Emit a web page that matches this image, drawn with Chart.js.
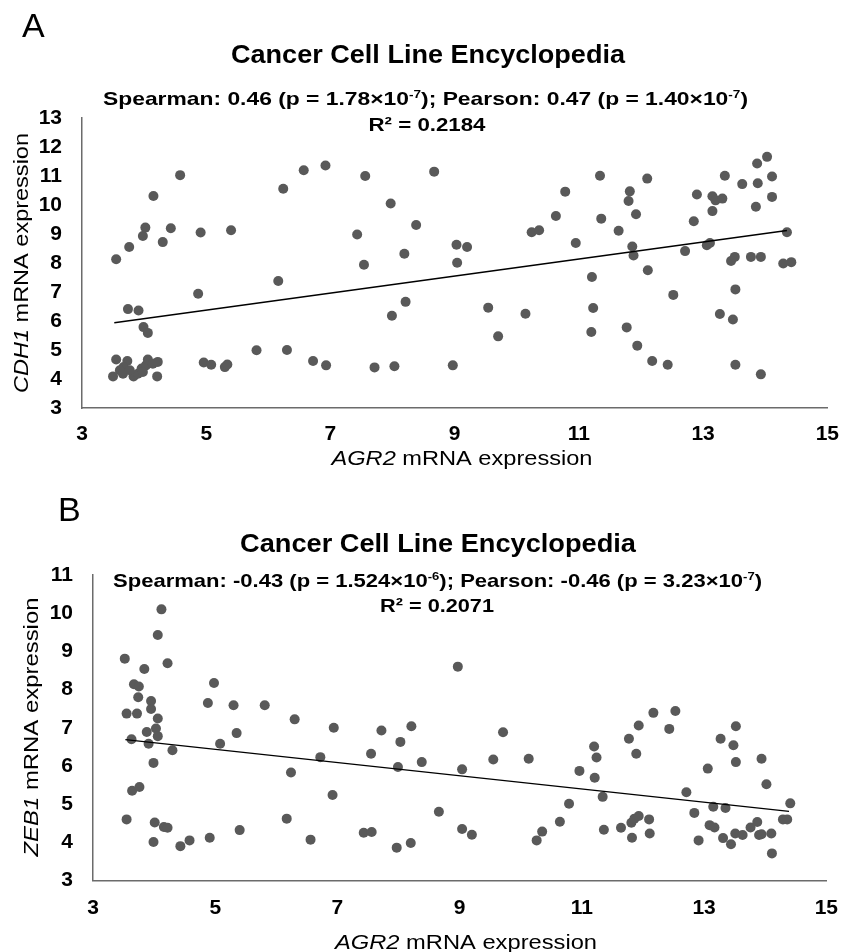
<!DOCTYPE html>
<html>
<head>
<meta charset="utf-8">
<title>AGR2 vs CDH1 / ZEB1 - Cancer Cell Line Encyclopedia</title>
<script src="https://cdn.jsdelivr.net/npm/chart.js@4.4.1/dist/chart.umd.min.js"></script>
<style>
  html, body { margin: 0; padding: 0; background: #fff; }
  #wrap { position: relative; width: 853px; height: 952px; overflow: hidden; }
  canvas { position: absolute; left: 0; }
  #chartA { top: 0; }
  #chartB { top: 480px; }
</style>
</head>
<body>
<div id="wrap">
  <canvas id="chartA" width="853" height="480"></canvas>
  <canvas id="chartB" width="853" height="472"></canvas>
</div>
<script>
(() => {
  "use strict";

  // Panel A: AGR2 (x) vs CDH1 (y)
  const agr2A = [
    3.55, 3.76, 3.98, 4.02, 4.15, 4.30, 4.43, 4.58, 4.91, 5.40, 4.87, 3.74, 3.91, 3.99, 4.06,
    6.16, 6.24, 6.57, 6.92, 7.56, 7.97, 8.38, 8.67, 7.43, 7.54, 8.19, 8.21, 7.99,
    3.55, 3.73, 3.67, 3.61, 3.50, 3.66, 3.83, 3.90, 3.96, 4.03, 4.06, 4.14, 4.22, 4.21, 3.98, 3.77,
    4.96, 5.08, 5.30, 5.34, 5.81, 6.30, 6.72, 6.93, 7.71, 8.03, 8.97,
    9.03, 9.20, 9.04, 9.54, 9.70, 10.14, 10.24, 10.36, 10.63, 10.78, 10.95, 11.21, 11.23, 11.20,
    11.34, 11.36, 11.64, 11.77, 11.82, 11.80, 11.86, 11.88, 11.92, 11.94, 12.10, 12.11, 12.18,
    12.43, 12.52, 12.71, 12.85, 12.90, 13.06, 13.11, 13.15, 13.20, 13.31, 13.15, 13.27, 13.35,
    13.45, 13.51, 13.52, 13.48, 13.52, 13.63, 13.77, 13.93, 13.93, 13.85, 13.88, 13.87, 14.03,
    14.11, 14.11, 14.35, 14.29, 14.42,
  ];
  const cdh1A = [
    8.13, 8.55, 8.93, 9.22, 10.31, 8.72, 9.20, 11.03, 9.05, 9.13, 6.94, 6.41, 6.36, 5.79, 5.59,
    7.38, 10.56, 11.20, 11.36, 11.00, 10.05, 9.31, 11.15, 8.98, 7.94, 8.32, 6.66, 6.18,
    4.67, 4.62, 4.41, 4.30, 4.09, 4.18, 4.09, 4.18, 4.36, 4.47, 4.67, 4.53, 4.59, 4.09, 4.24, 4.30,
    4.57, 4.49, 4.41, 4.50, 4.99, 5.00, 4.62, 4.47, 4.40, 4.44, 4.47,
    8.63, 8.55, 8.01, 6.46, 5.47, 6.25, 9.06, 9.13, 9.62, 10.46, 8.69, 7.52, 6.45, 5.62,
    11.01, 9.53, 9.11, 5.78, 10.47, 10.14, 8.57, 8.26, 9.68, 5.15, 10.91, 7.75, 4.62,
    4.49, 6.90, 8.41, 9.44, 10.36, 8.61, 8.69, 10.30, 10.16, 10.22, 9.79, 6.24, 11.01,
    8.07, 8.21, 7.09, 6.05, 4.49, 10.72, 8.21, 8.21, 4.16, 9.94, 10.75, 11.43, 11.66,
    10.98, 10.28, 9.06, 7.98, 8.03,
  ];
  const trendAgr2A = [3.52, 14.35];
  const trendCdh1A = [5.94, 9.12];

  // Panel B: AGR2 (x) vs ZEB1 (y)
  const agr2B = [
    3.52, 3.55, 3.63, 3.64, 3.76, 3.55, 3.67, 3.75, 3.74, 3.72, 3.84, 3.95, 3.95, 3.88, 3.91,
    3.99, 4.03, 4.06, 4.06, 4.06, 4.12, 4.22, 4.30, 4.01, 3.99, 4.16, 4.22, 4.43, 4.58,
    4.88, 4.98, 4.91, 5.08, 5.30, 5.35, 5.40, 5.81, 6.30, 6.24, 6.17, 6.56, 6.72, 6.94, 6.92,
    7.43, 7.56, 7.55, 7.72, 8.03, 7.99, 8.21, 7.97, 8.20, 8.38, 8.66,
    8.97, 9.04, 9.04, 9.20, 9.55, 9.71, 10.13, 10.26, 10.35, 10.64, 10.79, 10.96, 11.20, 11.24,
    11.21, 11.34, 11.36, 11.64, 11.77, 11.89, 11.93, 11.81, 11.86, 11.93, 11.82, 12.10, 12.11,
    12.17, 12.43, 12.53, 12.71, 12.84, 12.91, 13.06, 13.15, 13.35, 13.09, 13.17, 13.27, 13.31,
    13.44, 13.51, 13.63, 13.52, 13.48, 13.52, 13.76, 13.87, 13.90, 13.94, 13.94, 14.02, 14.10,
    14.11, 14.29, 14.36, 14.41,
  ];
  const zeb1B = [
    8.81, 7.37, 6.70, 5.35, 5.45, 4.60, 8.14, 8.08, 7.80, 7.37, 8.54, 7.70, 7.49, 6.89, 6.58,
    6.08, 6.98, 7.24, 6.78, 9.43, 10.10, 8.69, 6.41, 4.52, 4.01, 4.40, 4.38, 3.90, 4.05,
    7.65, 8.17, 4.12, 6.58, 7.59, 6.86, 4.32, 7.59, 7.22, 5.83, 4.62, 4.07, 6.23, 7.00, 5.24,
    4.25, 4.27, 6.32, 6.93, 6.63, 5.97, 7.04, 3.86, 3.98, 6.10, 4.80,
    8.60, 5.91, 4.35, 4.20, 6.17, 6.88, 6.19, 4.05, 4.28, 4.54, 5.01, 5.87, 6.51, 6.22,
    5.69, 5.19, 4.33, 4.38, 6.71, 6.32, 7.06, 4.51, 4.62, 4.69, 4.12, 4.60, 4.23,
    7.39, 6.97, 7.44, 5.31, 4.77, 4.05, 5.93, 4.93, 4.90, 4.45, 4.39, 6.71, 4.11,
    3.95, 4.23, 4.19, 7.04, 6.54, 6.10, 4.39, 4.53, 4.19, 4.21, 6.19, 5.52, 4.23,
    3.71, 4.60, 4.60, 5.02,
  ];
  const trendAgr2B = [3.53, 14.39];
  const trendZeb1B = [6.69, 4.81];

  const xTicks = [3, 5, 7, 9, 11, 13, 15];
  const yTicksA = [3, 4, 5, 6, 7, 8, 9, 10, 11, 12, 13];
  const yTicksB = [3, 4, 5, 6, 7, 8, 9, 10, 11];

  const FAMILY = '"Liberation Sans", Arial, Helvetica, sans-serif';
  const AXIS = "#6b6b6b";
  const DOT = "#595959";

  const f = (spec) => spec + " " + FAMILY;
  const BOLD = f("bold 18.5px");
  const SUP = f("bold 11px");
  const ITAL = f("italic 21px");
  const REG = f("21px");

  const toPoints = (xs, ys) => xs.map((x, i) => ({ x, y: ys[i] }));

  // draw a row of text runs, optionally stretched to a given width
  function drawRuns(ctx, item) {
    let natural = 0;
    item.runs.forEach((r) => {
      ctx.font = r[1];
      natural += ctx.measureText(r[0]).width;
    });
    const sx = item.width ? item.width / natural : 1;
    ctx.save();
    ctx.fillStyle = "#000";
    ctx.textBaseline = "alphabetic";
    ctx.textAlign = "left";
    ctx.translate(item.x, item.y);
    if (item.rotate) ctx.rotate(-Math.PI / 2);
    ctx.scale(sx, 1);
    let x = item.align === "left" ? 0 : -natural / 2;
    item.runs.forEach((r) => {
      ctx.font = r[1];
      ctx.fillText(r[0], x, -(r[2] || 0));
      x += ctx.measureText(r[0]).width;
    });
    ctx.restore();
  }

  const textPlugin = (items) => ({
    id: "panelText",
    afterDraw(chart) {
      items.forEach((it) => drawRuns(chart.ctx, it));
    },
  });

  function buildChart(canvas, cfg) {
    const tickFont = { family: FAMILY, size: 21, weight: "bold" };
    return new Chart(canvas, {
      type: "scatter",
      data: {
        datasets: [
          {
            type: "line",
            data: cfg.trend,
            borderColor: "#000",
            borderWidth: 1.4,
            pointRadius: 0,
            fill: false,
            order: 0,
          },
          {
            data: cfg.points,
            backgroundColor: DOT,
            borderWidth: 0,
            pointRadius: 5,
            pointHoverRadius: 5,
            order: 1,
          },
        ],
      },
      options: {
        responsive: false,
        animation: false,
        events: [],
        layout: { padding: { left: 0, top: cfg.top, right: cfg.right, bottom: 0 } },
        plugins: { legend: { display: false }, tooltip: { enabled: false } },
        scales: {
          x: {
            type: "linear",
            min: 3,
            max: 15,
            afterBuildTicks: (s) => { s.ticks = xTicks.map((v) => ({ value: v })); },
            afterFit: (s) => { s.height = cfg.xAxisH; },
            grid: { display: false, drawTicks: false },
            border: { display: true, color: AXIS, width: 1.5 },
            ticks: { padding: cfg.xPad, color: "#000", font: tickFont },
          },
          y: {
            type: "linear",
            min: cfg.yTicks[0],
            max: cfg.yTicks[cfg.yTicks.length - 1],
            afterBuildTicks: (s) => { s.ticks = cfg.yTicks.map((v) => ({ value: v })); },
            afterFit: (s) => { s.width = cfg.left; },
            grid: { display: false, drawTicks: false },
            border: { display: true, color: AXIS, width: 1.5 },
            ticks: { padding: 20, color: "#000", font: tickFont },
          },
        },
      },
      plugins: [textPlugin(cfg.texts)],
    });
  }

  buildChart(document.getElementById("chartA"), {
    points: toPoints(agr2A, cdh1A),
    trend: toPoints(trendAgr2A, trendCdh1A),
    yTicks: yTicksA,
    left: 82,
    right: 25,
    top: 118,
    xAxisH: 72,
    xPad: 14,
    texts: [
      { runs: [["A", f("34px")]], x: 22, y: 37, align: "left" },
      { runs: [["Cancer Cell Line Encyclopedia", f("bold 25px")]], x: 428, y: 63, width: 394 },
      {
        runs: [
          ["Spearman: 0.46 (p = 1.78×10", BOLD], ["-7", SUP, 7],
          ["); Pearson: 0.47 (p = 1.40×10", BOLD], ["-7", SUP, 7], [")", BOLD],
        ],
        x: 425.5, y: 105, width: 645,
      },
      { runs: [["R² = 0.2184", BOLD]], x: 427, y: 131, width: 117 },
      { runs: [["AGR2", ITAL], [" mRNA expression", REG]], x: 462, y: 465, width: 261 },
      { runs: [["CDH1", ITAL], [" mRNA expression", REG]], x: 27.5, y: 263, width: 260, rotate: true },
    ],
  });

  buildChart(document.getElementById("chartB"), {
    points: toPoints(agr2B, zeb1B),
    trend: toPoints(trendAgr2B, trendZeb1B),
    yTicks: yTicksB,
    left: 93,
    right: 14,
    top: 95,
    xAxisH: 71.5,
    xPad: 15,
    texts: [
      { runs: [["B", f("34px")]], x: 58, y: 41, align: "left" },
      { runs: [["Cancer Cell Line Encyclopedia", f("bold 25px")]], x: 438, y: 72, width: 396 },
      {
        runs: [
          ["Spearman: -0.43 (p = 1.524×10", BOLD], ["-6", SUP, 7],
          ["); Pearson: -0.46 (p = 3.23×10", BOLD], ["-7", SUP, 7], [")", BOLD],
        ],
        x: 437.5, y: 107, width: 649,
      },
      { runs: [["R² = 0.2071", BOLD]], x: 437, y: 132, width: 114 },
      { runs: [["AGR2", ITAL], [" mRNA expression", REG]], x: 466, y: 469, width: 262 },
      { runs: [["ZEB1", ITAL], [" mRNA expression", REG]], x: 37.5, y: 247, width: 259, rotate: true },
    ],
  });
})();
</script>
</body>
</html>
